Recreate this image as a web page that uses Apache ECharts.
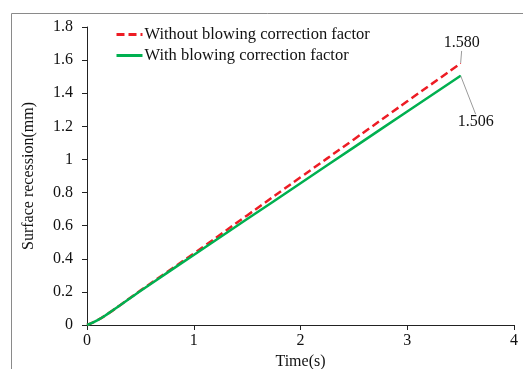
<!DOCTYPE html>
<html>
<head>
<meta charset="utf-8">
<script src="https://cdn.jsdelivr.net/npm/echarts@6/dist/echarts.min.js"></script>
<style>
  html, body { margin: 0; padding: 0; background: #fff; }
  #chart { width: 523px; height: 369px; }
</style>
</head>
<body>
<div id="chart"></div>
<script>
// Time (s) and surface recession (mm) for both cases
const timeS = [0, 0.1, 0.2, 0.3, 0.4, 0.5, 0.75, 1.0, 1.5, 2.0, 2.5, 3.0, 3.5];
const withoutCorrection = [0, 0.03, 0.07, 0.115, 0.162, 0.208, 0.32, 0.432, 0.662, 0.892, 1.121, 1.351, 1.580];
const withCorrection = [0, 0.03, 0.07, 0.115, 0.16, 0.205, 0.315, 0.423, 0.64, 0.856, 1.073, 1.29, 1.506];
const seriesNames = ['Without blowing correction factor', 'With blowing correction factor'];

const FONT = '"Liberation Serif", "Times New Roman", serif';
const pairs = (xs, ys) => xs.map((x, i) => [x, ys[i]]);

// only the final point carries a (tiny) symbol so its value label can be drawn
function lastLabel(arr, pos, color) {
  const last = arr.length - 1;
  return pairs(timeS, arr).map((p, i) => i === last
    ? { value: p, symbol: 'circle', symbolSize: 1, itemStyle: { color },
        label: { show: true, position: pos, formatter: v => v.value[1].toFixed(3) } }
    : p);
}

const chart = echarts.init(document.getElementById('chart'));
chart.setOption({
  animation: false,
  textStyle: { fontFamily: FONT },
  graphic: [{
    type: 'rect', left: 9, top: 11, silent: true, z: -1,
    shape: { width: 700, height: 700 },
    style: { fill: 'none', stroke: '#8a8a8a', lineWidth: 1 }
  }],
  grid: { left: 87, top: 27, width: 427, height: 298, containLabel: false, outerBoundsMode: 'none' },
  legend: {
    orient: 'vertical', left: 115, top: 26, padding: 0,
    itemWidth: 26, itemHeight: 10, itemGap: 4,
    itemStyle: { opacity: 0 },
    lineStyle: { width: 3 },
    textStyle: { fontFamily: FONT, fontSize: 16.5, lineHeight: 16, color: '#111', padding: [0, 0, 0, -3] },
    data: seriesNames
  },
  xAxis: {
    type: 'value', min: 0, max: 4, interval: 1,
    name: 'Time(s)', nameLocation: 'middle', nameGap: 22,
    nameTextStyle: { fontFamily: FONT, fontSize: 16, color: '#111' },
    axisLine: { lineStyle: { color: '#222', width: 1 } },
    axisTick: { show: true, length: 5, lineStyle: { color: '#222' } },
    axisLabel: { fontFamily: FONT, fontSize: 16, color: '#111', margin: 8 },
    splitLine: { show: false }
  },
  yAxis: {
    type: 'value', min: 0, max: 1.8, interval: 0.2,
    name: 'Surface recession(mm)', nameLocation: 'middle', nameGap: 50,
    nameTextStyle: { fontFamily: FONT, fontSize: 16, color: '#111' },
    axisLine: { show: true, lineStyle: { color: '#222', width: 1 } },
    axisTick: { show: true, length: 5, lineStyle: { color: '#222' } },
    axisLabel: { fontFamily: FONT, fontSize: 16, color: '#111', margin: 14,
      formatter: v => String(Math.round(v * 10) / 10) },
    splitLine: { show: false }
  },
  series: [
    {
      name: seriesNames[0], type: 'line', symbol: 'none', smooth: true,
      data: lastLabel(withoutCorrection, 'top', '#ED1C24'),
      lineStyle: { color: '#ED1C24', width: 2.5, type: [8, 4] },
      itemStyle: { color: '#ED1C24' },
      label: { fontFamily: FONT, fontSize: 16, color: '#111' },
      labelLayout: { dx: 1, dy: -7 },
      labelLine: { show: true, lineStyle: { color: '#9a9a9a', width: 1 } },
      z: 3
    },
    {
      name: seriesNames[1], type: 'line', symbol: 'none', smooth: true,
      data: lastLabel(withCorrection, 'bottom', '#00B050'),
      lineStyle: { color: '#00B050', width: 2.5 },
      itemStyle: { color: '#00B050' },
      label: { fontFamily: FONT, fontSize: 16, color: '#111' },
      labelLayout: { dx: 15, dy: 33 },
      labelLine: { show: true, lineStyle: { color: '#9a9a9a', width: 1 } },
      z: 4
    }
  ]
});
</script>
</body>
</html>
